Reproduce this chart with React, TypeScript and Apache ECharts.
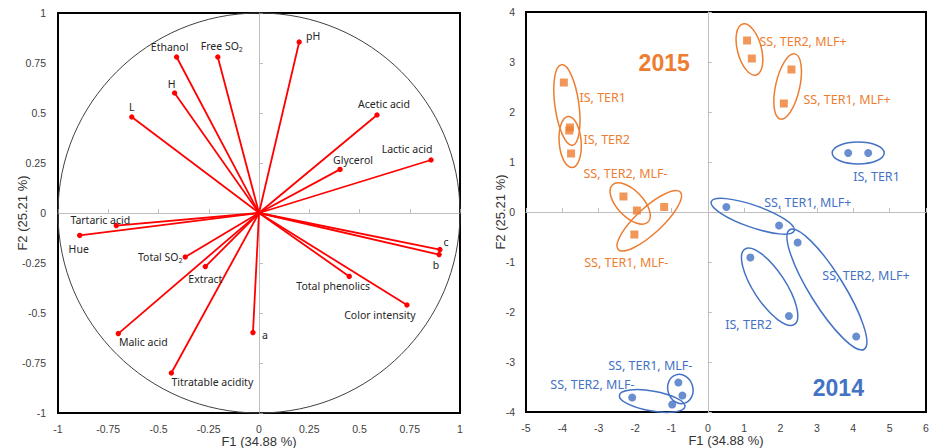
import React, { useEffect, useRef } from "react";
import * as echarts from "echarts";

// ---------- Left panel: correlation circle (loadings) ----------
const variables = [
  "pH", "Ethanol", "Free SO2", "H", "L", "Acetic acid", "Lactic acid", "Glycerol",
  "Tartaric acid", "Hue", "Total SO2", "Extract", "Malic acid", "Titratable acidity",
  "a", "c", "b", "Total phenolics", "Color intensity",
];
const f1Loadings = [0.2, -0.41, -0.205, -0.42, -0.633, 0.587, 0.856, 0.403, -0.71, -0.892, -0.367, -0.267, -0.7, -0.436, -0.03, 0.9, 0.896, 0.449, 0.736];
const f2Loadings = [0.855, 0.78, 0.78, 0.6, 0.48, 0.49, 0.265, 0.218, -0.063, -0.112, -0.22, -0.268, -0.603, -0.8, -0.598, -0.183, -0.208, -0.317, -0.46];
const loadingTicks = [-1, -0.75, -0.5, -0.25, 0, 0.25, 0.5, 0.75, 1];

// ---------- Right panel: observation scores ----------
const groups2015 = ["IS, TER1", "IS, TER2", "SS, TER2, MLF+", "SS, TER1, MLF+", "SS, TER2, MLF-", "SS, TER1, MLF-"];
const f1_2015 = [[-3.96, -3.79], [-3.81, -3.76], [1.08, 1.21], [2.3, 2.09], [-2.32, -1.95], [-1.2, -2.02]];
const f2_2015 = [[2.59, 1.69], [1.63, 1.17], [3.43, 3.07], [2.85, 2.17], [0.31, 0.03], [0.1, -0.45]];

const groups2014 = ["IS, TER1", "SS, TER1, MLF+", "SS, TER2, MLF+", "IS, TER2", "SS, TER1, MLF-", "SS, TER2, MLF-"];
const f1_2014 = [[3.86, 4.41], [0.51, 1.96], [2.47, 4.08], [1.17, 2.23], [-0.81, -0.7], [-2.08, -0.98]];
const f2_2014 = [[1.18, 1.18], [0.1, -0.27], [-0.61, -2.49], [-0.91, -2.08], [-3.41, -3.67], [-3.71, -3.85]];

const scoreXTicks = [-5, -4, -3, -2, -1, 0, 1, 2, 3, 4, 5, 6];
const scoreYTicks = [-4, -3, -2, -1, 0, 1, 2, 3, 4];
const years = ["2015", "2014"];
const xTitle = "F1 (34.88 %)";
const yTitle = "F2 (25.21 %)";

// ---------- Layout / style (not data) ----------
const loadingLabelOffsets = [
  [14, -6], [-7, -10], [4, -11], [-3, -9], [0, -10], [7, -11], [-24, -11], [13, -9],
  [-16, -6], [-1, 14], [-25, 0], [0, 12], [25, 8], [41, 9], [12, 2], [6, -8], [-3, 10], [-16, 10], [-27, 10],
];
// label anchors (left edge, middle) in score coordinates
const labelAnchors2015 = [[-3.53, 2.3], [-3.42, 1.46], [1.42, 3.42], [2.63, 2.26], [-3.42, 0.78], [-3.4, -1.0]];
const labelAnchors2014 = [[4.0, 0.72], [1.55, 0.2], [3.15, -1.26], [0.48, -2.24], [-2.74, -3.06], [-4.33, -3.44]];
const yearAnchors = [[-1.2, 2.98], [3.59, -3.52]];
// ellipse padding along major axis and minor semi-axis (px)
const ellipseSize2015 = [[18, 12], [14, 11], [17, 12], [16, 12], [16, 13], [22, 13]];
const ellipseSize2014 = [[16, 11], [16, 11], [15, 17], [10, 16], [8, 12.5], [13, 10]];

const ORANGE = "#ED7D31";
const BLUE = "#4472C4";
const TEXT = "#404040";
const ZERO = "#BFBFBF";

function tickAxis(ticks: number[]) {
  return { min: ticks[0], max: ticks[ticks.length - 1], interval: ticks[1] - ticks[0] };
}

export default function App() {
  const ref = useRef<HTMLDivElement>(null);

  useEffect(() => {
    if (!ref.current) return;
    const chart = echarts.init(ref.current, undefined, { renderer: "svg" });

    const labelAxisCommon = {
      type: "value",
      axisLine: { show: false, onZero: false },
      axisTick: { show: false },
      splitLine: { show: false },
      axisLabel: { color: TEXT, fontSize: 10.5, fontFamily: "Liberation Sans" },
      nameTextStyle: { color: "#333", fontSize: 13, fontFamily: "Liberation Sans" },
      nameLocation: "middle",
      nameMoveOverlap: false,
    };
    const zeroAxisCommon = {
      type: "value",
      axisLine: { show: true, onZero: true, lineStyle: { color: ZERO, width: 1 } },
      axisTick: { show: true, length: 4, lineStyle: { color: ZERO } },
      axisLabel: { show: false },
      splitLine: { show: false },
    };

    const scores2015 = f1_2015.flatMap((xs, g) => xs.map((x, k) => [x, f2_2015[g][k]]));
    const scores2014 = f1_2014.flatMap((xs, g) => xs.map((x, k) => [x, f2_2014[g][k]]));

    const ellipseSeries = (f1: number[][], f2: number[][], sizes: number[][], color: string) => ({
      type: "custom",
      xAxisIndex: 2,
      yAxisIndex: 2,
      silent: true,
      data: f1.map((xs, g) => [(xs[0] + xs[1]) / 2, (f2[g][0] + f2[g][1]) / 2]),
      encode: { x: 0, y: 1 },
      renderItem: (params: any, api: any) => {
        const g = params.dataIndex;
        const p1 = api.coord([f1[g][0], f2[g][0]]);
        const p2 = api.coord([f1[g][1], f2[g][1]]);
        const dx = p2[0] - p1[0];
        const dy = p2[1] - p1[1];
        const len = Math.sqrt(dx * dx + dy * dy);
        const ang = len > 0 ? Math.atan2(dy, dx) : 0;
        return {
          type: "ellipse",
          x: (p1[0] + p2[0]) / 2,
          y: (p1[1] + p2[1]) / 2,
          rotation: -ang,
          shape: { cx: 0, cy: 0, rx: len / 2 + sizes[g][0], ry: sizes[g][1] },
          style: { fill: "none", stroke: color, lineWidth: 1.5 },
        };
      },
    });

    const labelSeries = (anchors: number[][], names: string[], color: string) => ({
      type: "custom",
      xAxisIndex: 2,
      yAxisIndex: 2,
      silent: true,
      data: anchors,
      encode: { x: 0, y: 1 },
      renderItem: (params: any, api: any) => {
        const p = api.coord([api.value(0), api.value(1)]);
        return {
          type: "text",
          x: p[0],
          y: p[1],
          style: {
            text: names[params.dataIndex],
            fill: color,
            fontSize: 12.5,
            fontFamily: "Noto Sans",
            align: "left",
            verticalAlign: "middle",
          },
        };
      },
    });

    const yTitleStyle = {
      text: yTitle,
      fill: "#333",
      fontSize: 13,
      fontFamily: "Liberation Sans",
      align: "center",
      verticalAlign: "middle",
    };

    const option: any = {
      animation: false,
      grid: [
        { left: 58, top: 13, width: 402, height: 400, show: true, borderColor: "#000", borderWidth: 2, backgroundColor: "transparent", outerBoundsMode: "none", containLabel: false },
        { left: 526, top: 12, width: 400, height: 400, show: true, borderColor: "#000", borderWidth: 2, backgroundColor: "transparent", outerBoundsMode: "none", containLabel: false },
      ],
      graphic: [
        { type: "text", x: 22, y: 213, rotation: Math.PI / 2, style: yTitleStyle, silent: true },
        { type: "text", x: 500, y: 212, rotation: Math.PI / 2, style: yTitleStyle, silent: true },
      ],
      xAxis: [
        { ...labelAxisCommon, gridIndex: 0, position: "bottom", ...tickAxis(loadingTicks), name: xTitle, nameGap: 22, axisLabel: { ...labelAxisCommon.axisLabel, margin: 10 } },
        { ...zeroAxisCommon, gridIndex: 0, position: "top", ...tickAxis(loadingTicks) },
        { ...labelAxisCommon, gridIndex: 1, position: "bottom", ...tickAxis(scoreXTicks), name: xTitle, nameGap: 22, axisLabel: { ...labelAxisCommon.axisLabel, margin: 10 } },
        { ...zeroAxisCommon, gridIndex: 1, position: "top", ...tickAxis(scoreXTicks) },
      ],
      yAxis: [
        { ...labelAxisCommon, gridIndex: 0, position: "left", ...tickAxis(loadingTicks), axisLabel: { ...labelAxisCommon.axisLabel, margin: 12 } },
        { ...zeroAxisCommon, gridIndex: 0, position: "right", ...tickAxis(loadingTicks) },
        { ...labelAxisCommon, gridIndex: 1, position: "left", ...tickAxis(scoreYTicks), axisLabel: { ...labelAxisCommon.axisLabel, margin: 11 } },
        { ...zeroAxisCommon, gridIndex: 1, position: "right", ...tickAxis(scoreYTicks) },
      ],
      series: [
        {
          type: "custom",
          xAxisIndex: 0,
          yAxisIndex: 0,
          silent: true,
          data: [[0, 0]],
          encode: { x: 0, y: 1 },
          renderItem: (params: any, api: any) => {
            const c = api.coord([0, 0]);
            const s = api.size([1, 1]);
            return {
              type: "ellipse",
              shape: { cx: c[0], cy: c[1], rx: s[0], ry: s[1] },
              style: { fill: "none", stroke: "#404040", lineWidth: 1 },
            };
          },
        },
        {
          type: "custom",
          xAxisIndex: 0,
          yAxisIndex: 0,
          silent: true,
          data: f1Loadings.map((x, i) => [x, f2Loadings[i]]),
          encode: { x: 0, y: 1 },
          renderItem: (params: any, api: any) => {
            const i = params.dataIndex;
            const o = api.coord([0, 0]);
            const p = api.coord([api.value(0), api.value(1)]);
            const off = loadingLabelOffsets[i];
            const text = variables[i].replace("SO2", "SO{s|2}");
            return {
              type: "group",
              children: [
                { type: "line", shape: { x1: o[0], y1: o[1], x2: p[0], y2: p[1] }, style: { stroke: "#FF0000", lineWidth: 1.8 } },
                { type: "circle", shape: { cx: p[0], cy: p[1], r: 2.7 }, style: { fill: "#FF0000" } },
                {
                  type: "text",
                  x: p[0] + off[0],
                  y: p[1] + off[1],
                  z2: 10,
                  style: {
                    text,
                    fill: "#262626",
                    fontSize: 10.5,
                    fontFamily: "Noto Sans",
                    lineHeight: 14,
                    align: "center",
                    verticalAlign: "middle",
                    rich: {
                      s: { fontSize: 7, fontFamily: "Noto Sans", fill: "#262626", verticalAlign: "bottom" },
                    },
                  },
                },
              ],
            };
          },
        },
        {
          type: "scatter",
          xAxisIndex: 2,
          yAxisIndex: 2,
          symbol: "rect",
          symbolSize: 8,
          itemStyle: { color: ORANGE },
          data: scores2015,
          silent: true,
        },
        {
          type: "scatter",
          xAxisIndex: 2,
          yAxisIndex: 2,
          symbol: "circle",
          symbolSize: 8,
          itemStyle: { color: BLUE },
          data: scores2014,
          silent: true,
        },
        ellipseSeries(f1_2015, f2_2015, ellipseSize2015, ORANGE),
        ellipseSeries(f1_2014, f2_2014, ellipseSize2014, BLUE),
        labelSeries(labelAnchors2015, groups2015, ORANGE),
        labelSeries(labelAnchors2014, groups2014, BLUE),
        {
          type: "custom",
          xAxisIndex: 2,
          yAxisIndex: 2,
          silent: true,
          data: yearAnchors,
          encode: { x: 0, y: 1 },
          renderItem: (params: any, api: any) => {
            const p = api.coord([api.value(0), api.value(1)]);
            return {
              type: "text",
              x: p[0],
              y: p[1],
              style: {
                text: years[params.dataIndex],
                fill: params.dataIndex === 0 ? ORANGE : BLUE,
                fontSize: 23,
                fontWeight: "bold",
                fontFamily: "Liberation Sans",
                align: "center",
                verticalAlign: "middle",
              },
            };
          },
        },
      ],
    };

    chart.setOption(option);
    return () => chart.dispose();
  }, []);

  return (
    <div
      ref={ref}
      style={{ position: "fixed", left: 0, top: 0, width: 939, height: 448, background: "#fff" }}
    />
  );
}
